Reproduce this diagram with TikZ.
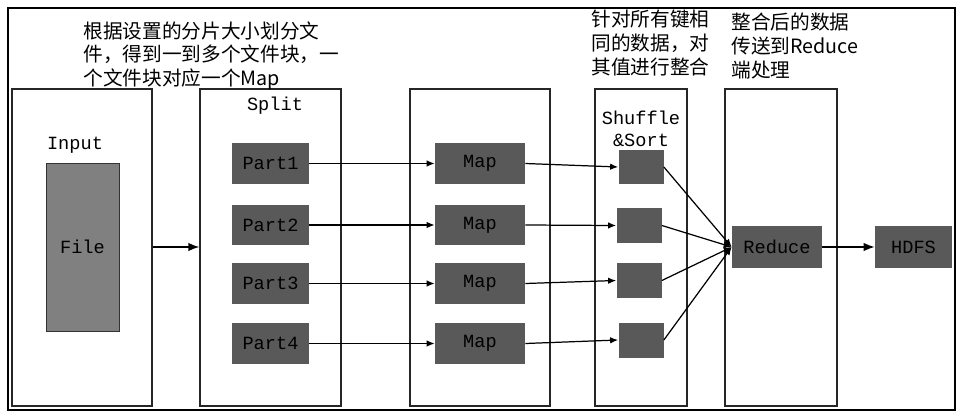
\documentclass[tikz,border=0pt]{standalone}
\usepackage{fontspec}
\usetikzlibrary{arrows.meta,positioning}
\newfontfamily\cjk{Noto Sans CJK SC}
\newfontfamily\labelfont{Liberation Mono}
\definecolor{BlockGray}{RGB}{89,89,89}
\definecolor{FileGray}{RGB}{128,128,128}
\tikzset{
  stagebox/.style={draw=black!85,line width=0.8pt,minimum height=6.34cm,inner sep=0pt},
  darkbox/.style={fill=BlockGray,minimum height=0.82cm,inner sep=0pt,
    font=\labelfont\fontsize{10.6}{12}\selectfont},
  partbox/.style={darkbox,minimum width=1.54cm},
  mapbox/.style={darkbox,minimum width=1.8cm},
  sortbox/.style={darkbox,minimum width=0.9cm,minimum height=0.7cm},
  stagelabel/.style={font=\labelfont\fontsize{10.6}{12.6}\selectfont,align=center,inner sep=0pt},
  note/.style={anchor=north west,align=left,inner sep=0pt,
    font=\cjk\fontsize{11.2}{13.4}\selectfont},
  flowarrow/.style={-{Latex[length=1.6mm,width=1.3mm]},line width=0.7pt},
  mainarrow/.style={-{Latex[length=2.2mm,width=1.7mm]},line width=0.8pt},
}

\begin{document}
\begin{tikzpicture}[x=0.02cm,y=-0.02cm]
\useasboundingbox (0,0) rectangle (962,415);
\fill[white] (0,0) rectangle (962,415);
\draw[line width=1.2pt] (8,8) rectangle (955,410);
% stage columns
\node[stagebox,minimum width=2.8cm] (inputcol) at (82,247.5) {};
\node[stagebox,minimum width=2.82cm] (splitcol) at (270.5,247.5) {};
\node[stagebox,minimum width=2.8cm] (mapcol) at (480,247.5) {};
\node[stagebox,minimum width=1.84cm] (shufflecol) at (641,247.5) {};
\node[stagebox,minimum width=2.24cm] (reducecol) at (781,247.5) {};
% column titles
\node[stagelabel] (inputlbl) at (75,145) {Input};
\node[stagelabel] (splitlbl) at (275,106) {Split};
\node[stagelabel] (shufflelbl) at (641,129) {Shuffle\\\&Sort};
% input file
\node[draw=black!80,fill=FileGray,minimum width=1.46cm,minimum height=3.36cm,
  font=\labelfont\fontsize{10.6}{12}\selectfont] (file) at (82.5,247) {File};
% parts, maps and sort blocks
\node[partbox] (part1) at (270.5,163.5) {Part1};
\node[partbox] (part2) at (270.5,225) {Part2};
\node[partbox] (part3) at (270.5,283.5) {Part3};
\node[partbox] (part4) at (270.5,343.5) {Part4};
\node[mapbox] (map1) at (480,163.5) {Map};
\node[mapbox] (map2) at (480,225) {Map};
\node[mapbox] (map3) at (480,283.5) {Map};
\node[mapbox] (map4) at (480,343.5) {Map};
\node[sortbox] (sort1) at (641,167) {};
\node[sortbox] (sort2) at (639,225.5) {};
\node[sortbox] (sort3) at (639,280.5) {};
\node[sortbox] (sort4) at (641,340) {};
\node[darkbox,minimum width=1.8cm,minimum height=0.84cm] (reduce) at (777,247) {Reduce};
\node[darkbox,minimum width=1.54cm,minimum height=0.84cm] (hdfs) at (913.5,247) {HDFS};
% notes
\node[note] (splitnote) at (83,21) {根据设置的分片大小划分文\\件，得到一到多个文件块，一\\个文件块对应一个Map};
\node[note] (sortnote) at (591,10) {针对所有键相\\同的数据，对\\其值进行整合};
\node[note] (reducenote) at (731,13) {整合后的数据\\传送到Reduce\\端处理};
% arrows
\draw[mainarrow] (inputcol.east |- file) -- (splitcol.west |- file);
\foreach \i in {1,...,4} {
  \draw[flowarrow] (part\i) -- (map\i);
  \draw[flowarrow] (map\i.east) -- (sort\i.west);
  \draw[flowarrow] (sort\i.east) -- (reduce.west);
}
\draw[mainarrow] (reduce) -- (hdfs);
\end{tikzpicture}
\end{document}
